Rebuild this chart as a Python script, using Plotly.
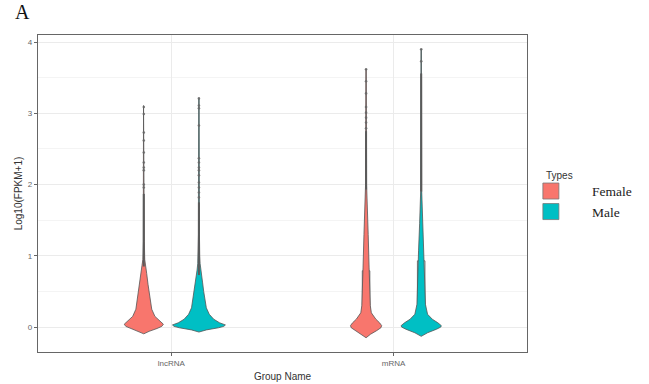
import plotly.graph_objects as go

# ---------------- data ----------------
groups = ["lncRNA", "mRNA"]
types = ["Female", "Male"]

# violin profiles: y levels and relative density (half-width relative)
fl_y = [-0.095, -0.06, -0.02, 0.01, 0.04, 0.08, 0.15, 0.25, 0.34, 0.45, 0.6, 0.75, 0.86, 0.95, 1.2, 3.11]
fl_d = [0.0, 0.20, 0.50, 0.68, 0.74, 0.62, 0.42, 0.30, 0.26, 0.21, 0.16, 0.11, 0.07, 0.035, 0.02, 0.01]

ml_y = [-0.07, -0.04, -0.01, 0.01, 0.03, 0.06, 0.11, 0.18, 0.27, 0.38, 0.5, 0.62, 0.72, 0.8, 0.89, 1.0, 1.3, 3.21]
ml_d = [0.0, 0.28, 0.74, 0.94, 1.0, 0.78, 0.56, 0.39, 0.28, 0.22, 0.18, 0.14, 0.10, 0.07, 0.045, 0.03, 0.02, 0.01]

fm_y = [-0.15, -0.1, -0.05, -0.01, 0.02, 0.06, 0.11, 0.2, 0.3, 0.45, 0.83, 1.3, 1.63, 1.8, 2.0, 3.62]
fm_d = [0.0, 0.17, 0.40, 0.56, 0.59, 0.51, 0.37, 0.20, 0.16, 0.14, 0.115, 0.08, 0.05, 0.03, 0.02, 0.01]

mm_y = [-0.13, -0.08, -0.03, 0.0, 0.02, 0.06, 0.11, 0.18, 0.32, 0.6, 1.07, 1.45, 1.7, 1.9, 3.9]
mm_d = [0.0, 0.24, 0.58, 0.74, 0.76, 0.63, 0.42, 0.24, 0.16, 0.135, 0.10, 0.06, 0.03, 0.02, 0.01]

# box statistics
box_q1 = [0.05, 0.01, 0.05, 0.04]
box_med = [0.20, 0.13, 0.37, 0.44]
box_q3 = [0.37, 0.30, 0.79, 0.93]
box_lo = [0.0, 0.0, 0.0, 0.0]
box_hi = [0.85, 0.73, 1.93, 1.90]

# outliers: dense run (lo, hi) and sparse individual points
dense_lo = [0.85, 0.73, 1.93, 1.90]
dense_hi = [1.87, 1.75, 2.75, 3.56]
sparse_pts = [
    [1.96, 2.0, 2.2, 2.24, 2.31, 2.45, 2.62, 2.73, 2.99, 3.09],
    [1.82, 1.89, 1.96, 2.03, 2.13, 2.2, 2.24, 2.31, 2.37, 2.83, 3.07, 3.11, 3.21],
    [2.79, 2.87, 2.94, 3.01, 3.09, 3.28, 3.45, 3.62],
    [3.73, 3.9],
]

# ---------------- style ----------------
colors = {"Female": "#F8766D", "Male": "#00BFC4"}
dodge = 0.124
width_scale = 0.119   # max half-width in category units for density 1
box_width = 0.034
outline = "#555555"

profiles = [(fl_y, fl_d), (ml_y, ml_d), (fm_y, fm_d), (mm_y, mm_d)]
combos = [(g, t) for g in groups for t in types]

fig = go.Figure()
for i, ((g, t), (ys, ds)) in enumerate(zip(combos, profiles)):
    center = groups.index(g) + 1 + (-dodge if t == "Female" else dodge)
    xs = [center + d * width_scale for d in ds] + [center - d * width_scale for d in reversed(ds)]
    yy = list(ys) + list(reversed(ys))
    fig.add_trace(go.Scatter(
        x=xs, y=yy, mode="lines", fill="toself", fillcolor=colors[t],
        line=dict(color=outline, width=0.8), name=t,
        showlegend=False, hoverinfo="skip"))
    # box
    fig.add_trace(go.Box(
        x=[center], q1=[box_q1[i]], median=[box_med[i]], q3=[box_q3[i]],
        lowerfence=[box_lo[i]], upperfence=[box_hi[i]], width=box_width,
        fillcolor="rgba(0,0,0,0)", line=dict(color=outline, width=0.8),
        whiskerwidth=0, boxpoints=False, showlegend=False))
    # dense outliers
    fig.add_trace(go.Scatter(
        x=[center, center], y=[dense_lo[i], dense_hi[i]], mode="lines",
        line=dict(color="#5a5a5a", width=2.0), showlegend=False, hoverinfo="skip"))
    # sparse outliers
    fig.add_trace(go.Scatter(
        x=[center] * len(sparse_pts[i]), y=sparse_pts[i], mode="markers",
        marker=dict(color="#666666", size=2.6, opacity=0.85),
        showlegend=False, hoverinfo="skip"))

# legend keys (square keys like ggplot)
for t in types:
    fig.add_trace(go.Scatter(
        x=[None], y=[None], mode="markers", name=t,
        marker=dict(symbol="square", size=16, color=colors[t],
                    line=dict(color="#777777", width=0.8)),
        showlegend=True))

fig.update_layout(
    width=649, height=384,
    margin=dict(l=38, r=122, t=35, b=32, autoexpand=False),
    paper_bgcolor="white", plot_bgcolor="white",
    font=dict(family="Liberation Sans, Arial", color="#444444"),
    showlegend=True,
    legend=dict(
        x=0.965, y=0.556, xanchor="left", yanchor="top",
        font=dict(family="Liberation Serif, Times New Roman", size=13.5, color="#222222"),
        itemwidth=72, tracegroupgap=0, bgcolor="rgba(0,0,0,0)"),
    xaxis=dict(
        range=[0.4, 2.6], tickvals=[1, 2], ticktext=groups, automargin=False,
        showgrid=True, gridcolor="#ebebeb", gridwidth=1, zeroline=False,
        showline=True, mirror=True, linecolor="#666666", linewidth=1.2,
        ticks="outside", ticklen=3, tickcolor="#666666",
        tickfont=dict(size=8, color="#666666"),
        title=dict(text="Group Name", font=dict(size=10, color="#333333"), standoff=6)),
    yaxis=dict(
        range=[-0.35, 4.1], tickvals=[0, 1, 2, 3, 4], automargin=False,
        showgrid=True, gridcolor="#ebebeb", gridwidth=1, zeroline=False,
        minor=dict(dtick=0.5, tick0=0, showgrid=True, gridcolor="#f4f4f4", gridwidth=0.8),
        showline=True, mirror=True, linecolor="#666666", linewidth=1.2,
        ticks="outside", ticklen=3, tickcolor="#666666",
        tickfont=dict(size=8, color="#666666"),
        title=dict(text="Log10(FPKM+1)", font=dict(size=10, color="#333333"), standoff=3)),
    annotations=[
        dict(text="A", xref="paper", yref="paper", x=-0.0307, y=1.0726,
             xanchor="center", yanchor="middle", showarrow=False,
             font=dict(family="Liberation Serif, Times New Roman", size=20, color="#111111")),
        dict(text="Types", xref="paper", yref="paper", x=1.0348, y=0.557,
             xanchor="left", yanchor="middle", showarrow=False,
             font=dict(family="Liberation Sans, Arial", size=10, color="#333333")),
    ],
)

# remove the browser's default 8px body margin so the figure fills the window
fig.write_html("out.html", config={"displayModeBar": False},
               post_script="document.body.style.margin='0px';")
